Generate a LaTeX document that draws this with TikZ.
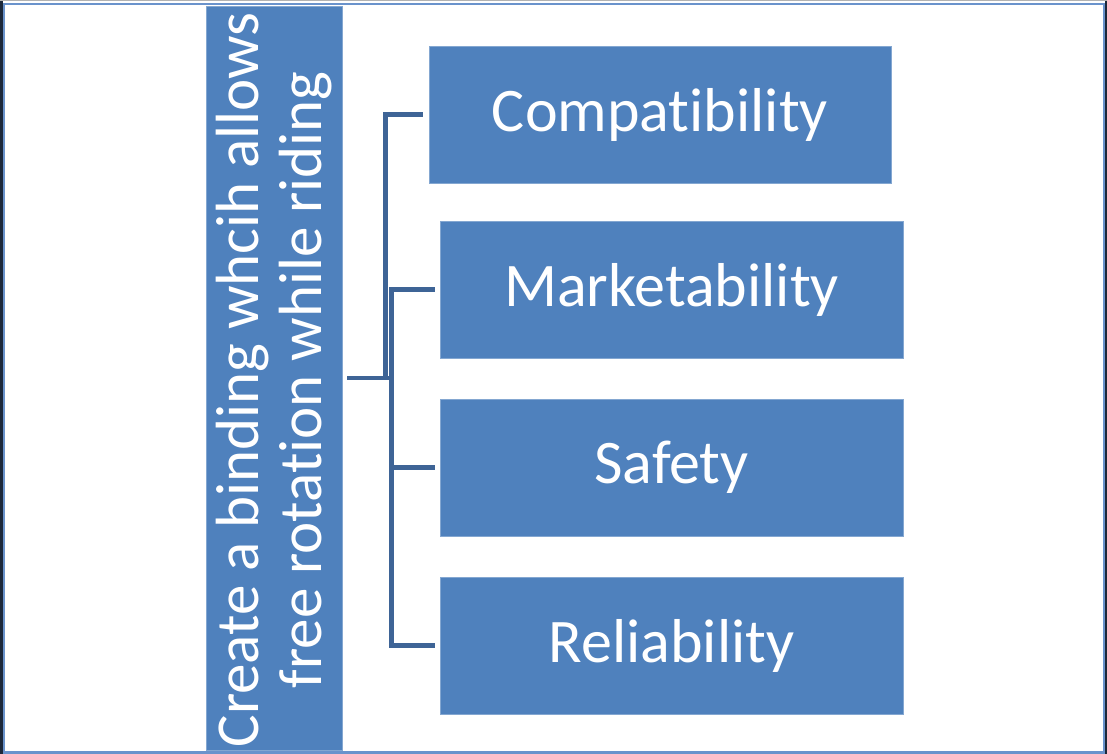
\documentclass[tikz,border=0pt]{standalone}
\usepackage{fontspec}
\setmainfont[Ligatures=NoCommon,RawFeature={-calt;-dlig}]{Carlito}
\definecolor{boxblue}{HTML}{4F81BD}
\definecolor{connblue}{RGB}{62,100,150}
\definecolor{framblue}{RGB}{106,147,204}
\definecolor{darkedge}{RGB}{28,40,58}
\begin{document}
\begin{tikzpicture}[x=1pt,y=-1pt,
  box/.style={fill=boxblue, draw=boxblue!70!white, line width=0.8pt, inner sep=0pt, text=white,
    font=\fontsize{62}{64}\selectfont},
  conn/.style={draw=connblue, line width=4.2pt}]
\useasboundingbox (0,0) rectangle (1107,754);
\fill[white] (0,0) rectangle (1107,754);
% outer frame
\fill[darkedge] (0,0) rectangle (2.8,754);
\fill[darkedge] (1105,0) rectangle (1107,754);
\fill[gray!60] (0,0) rectangle (1107,1.4);
\draw[framblue, line width=2.4pt] (4,4.2) rectangle (1104,752.6);
% boxes
\node[box, minimum width=136pt, minimum height=744pt] (root) at (274,378) {};
\node[rotate=90, text=white, align=center, inner sep=0pt,
  font=\fontsize{61}{63}\selectfont] (roottext) at (274,380)
  {Create a binding whcih allows\\free rotat\kern0pt ion while riding};
\node[box, minimum width=462pt, minimum height=137pt] (c1) at (660,114.5) {Compat\kern0pt ibility};
\node[box, minimum width=463pt, minimum height=137pt] (c2) at (671.5,289.5) {Marketability};
\node[box, minimum width=463pt, minimum height=137pt] (c3) at (671.5,467.5) {Safety};
\node[box, minimum width=463pt, minimum height=137pt] (c4) at (671.5,645.5) {Reliability};
% connectors
\draw[conn, shorten <=5pt, shorten >=6pt] (root.east) -- ++(43,0) |- (c1.west);
\draw[conn, shorten <=5pt, shorten >=5pt] (root.east) -- ++(49,0) |- (c2.west);
\draw[conn, shorten <=5pt, shorten >=5pt] (root.east) -- ++(49,0) |- (c3.west);
\draw[conn, shorten <=5pt, shorten >=5pt] (root.east) -- ++(49,0) |- (c4.west);
\end{tikzpicture}
\end{document}
